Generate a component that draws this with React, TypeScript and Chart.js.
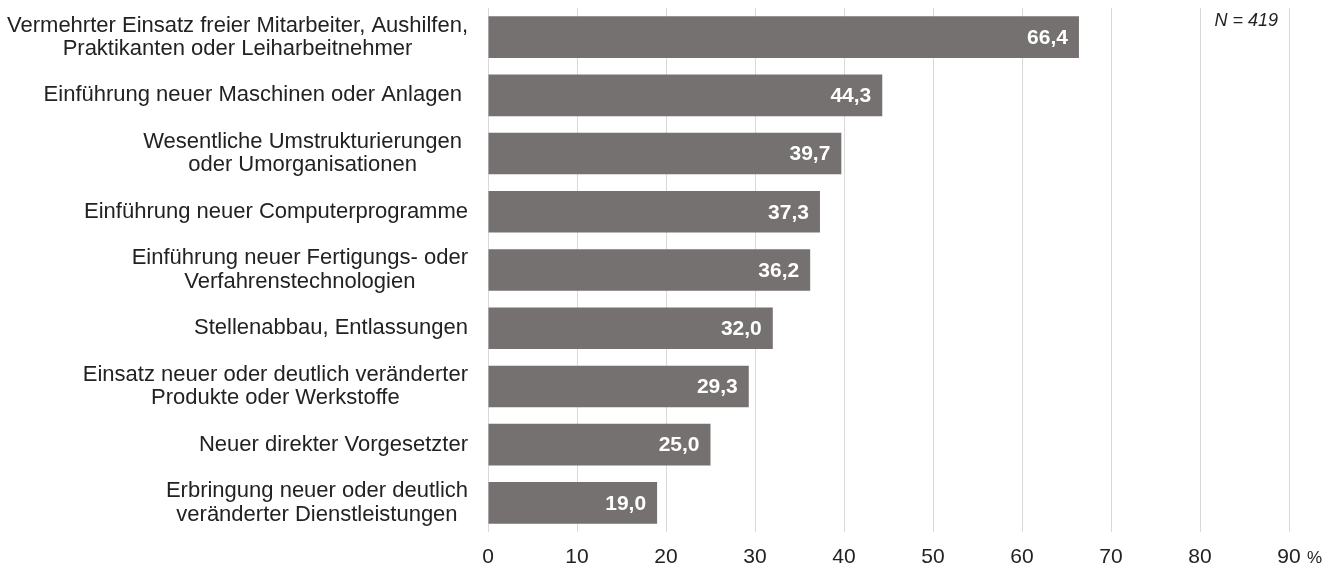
import React, { useEffect, useRef } from "react";
import { Chart, registerables } from "chart.js";

Chart.register(...registerables);

const categories: string[][] = [
  ["Vermehrter Einsatz freier Mitarbeiter, Aushilfen,", "Praktikanten oder Leiharbeitnehmer"],
  ["Einführung neuer Maschinen oder Anlagen "],
  ["Wesentliche Umstrukturierungen ", "oder Umorganisationen "],
  ["Einführung neuer Computerprogramme"],
  ["Einführung neuer Fertigungs- oder", "Verfahrenstechnologien"],
  ["Stellenabbau, Entlassungen"],
  ["Einsatz neuer oder deutlich veränderter", "Produkte oder Werkstoffe"],
  ["Neuer direkter Vorgesetzter"],
  ["Erbringung neuer oder deutlich", "veränderter Dienstleistungen"],
];

const values: number[] = [66.4, 44.3, 39.7, 37.3, 36.2, 32.0, 29.3, 25.0, 19.0];

const xTickValues: number[] = [0, 10, 20, 30, 40, 50, 60, 70, 80, 90];
const unitLabel = "%";
const noteLabel = "N = 419";

const FONT = "'Liberation Sans', Arial, sans-serif";

const fmt = (v: number) => v.toFixed(1).replace(".", ",");

const overlayPlugin = {
  id: "overlay",
  afterDatasetsDraw(chart: any) {
    const { ctx, chartArea } = chart;
    const yScale = chart.scales.y;
    const xScale = chart.scales.x;
    ctx.save();
    // category labels
    ctx.font = `22px ${FONT}`;
    ctx.fillStyle = "#222222";
    ctx.textBaseline = "middle";
    ctx.textAlign = "center";
    const rightEdge = chartArea.left - 20;
    const lineH = 23.3;
    categories.forEach((lines, i) => {
      const cy = yScale.getPixelForValue(i);
      const maxW = Math.max(...lines.map((l) => ctx.measureText(l).width));
      const cx = rightEdge - maxW / 2;
      const n = lines.length;
      lines.forEach((l, j) => {
        const y = cy + (j - (n - 1) / 2) * lineH;
        ctx.fillText(l, cx, y);
      });
    });
    // value labels in bars
    const meta = chart.getDatasetMeta(0);
    ctx.font = `bold 21px ${FONT}`;
    ctx.fillStyle = "#ffffff";
    ctx.textAlign = "right";
    meta.data.forEach((bar: any, i: number) => {
      ctx.fillText(fmt(values[i]), bar.x - 11, bar.y + 1);
    });
    // unit label
    ctx.font = `17px ${FONT}`;
    ctx.fillStyle = "#222222";
    ctx.textAlign = "left";
    ctx.textBaseline = "alphabetic";
    ctx.fillText(unitLabel, xScale.getPixelForValue(90) + 18, 563);
    // note
    ctx.font = `italic 18px ${FONT}`;
    ctx.textAlign = "right";
    ctx.textBaseline = "middle";
    ctx.fillText(noteLabel, xScale.getPixelForValue(90) - 11, chartArea.top + 13);
    ctx.restore();
  },
};

export default function App() {
  const ref = useRef<HTMLCanvasElement | null>(null);
  useEffect(() => {
    document.body.style.margin = "0";
    if (!ref.current) return;
    const chart = new Chart(ref.current, {
      type: "bar",
      data: {
        labels: categories.map((c) => c.join(" ")),
        datasets: [
          {
            data: values,
            backgroundColor: "#767171",
            borderWidth: 0,
            barPercentage: 0.715,
            categoryPercentage: 1,
          },
        ],
      },
      options: {
        indexAxis: "y",
        animation: false,
        responsive: false,
        maintainAspectRatio: false,
        layout: { padding: { top: 8, right: 47, left: 0, bottom: 0 } },
        plugins: {
          legend: { display: false },
          tooltip: { enabled: false },
        },
        scales: {
          x: {
            min: 0,
            max: 90,
            afterBuildTicks: (scale: any) => {
              scale.ticks = xTickValues.map((v) => ({ value: v }));
            },
            afterFit: (scale: any) => {
              scale.height = 33;
            },
            grid: { color: "#d9d9d9", lineWidth: 1, drawTicks: false },
            border: { display: false },
            ticks: {
              padding: 13,
              color: "#222222",
              font: { family: FONT, size: 21 },
              callback: (v: any) => String(v),
            },
          },
          y: {
            afterFit: (scale: any) => {
              scale.width = 488;
            },
            grid: { display: false },
            border: { display: false },
            ticks: { display: false },
          },
        },
      },
      plugins: [overlayPlugin],
    });
    return () => chart.destroy();
  }, []);
  return (
    <div style={{ width: 1336, height: 565 }}>
      <canvas ref={ref} width={1336} height={565} style={{ display: "block" }} />
    </div>
  );
}
